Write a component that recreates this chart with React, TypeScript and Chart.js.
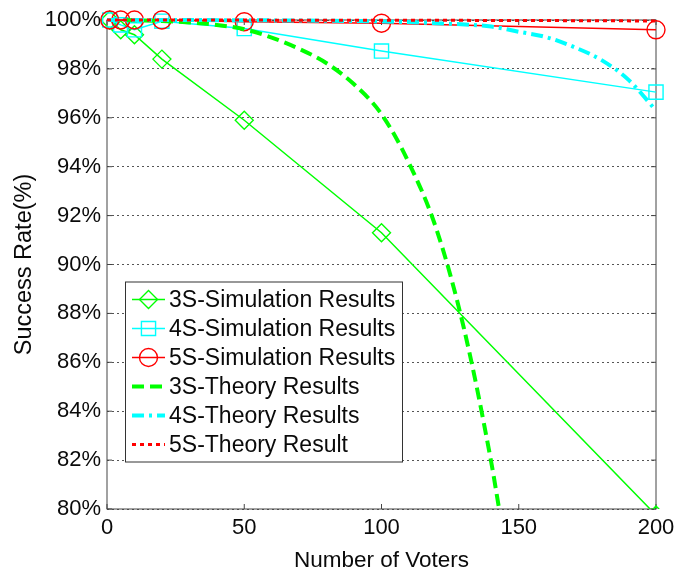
import { useEffect, useRef } from 'react';
import { Chart, registerables } from 'chart.js';
import { drawPoint } from 'chart.js/helpers';

Chart.register(...registerables);

const FONT = "'Liberation Sans', Arial, Helvetica, sans-serif";

// ---- data ----
const simVoters = [1, 5, 10, 20, 50, 100, 200];
const sim3S = [100, 99.6, 99.4, 98.4, 95.9, 91.3, 79.75];
const sim4S = [100, 99.8, 99.6, 99.95, 99.65, 98.73, 97.05];
const sim5S = [100, 100, 100, 100, 99.93, 99.87, 99.6];

const theory3SVoters = [0, 10, 20, 30, 40, 50, 60, 70, 80, 90, 100, 110, 120, 130, 140, 143];
const theory3S = [100, 99.99, 99.96, 99.9, 99.8, 99.62, 99.28, 98.82, 98.23, 97.37, 96.15, 94.15, 91.45, 87.4, 81.9, 79.9];

const theory4SVoters = [0, 50, 100, 120, 140, 150, 160, 170, 180, 190, 200];
const theory4S = [100, 99.99, 99.94, 99.87, 99.73, 99.52, 99.3, 98.9, 98.37, 97.55, 96.3];

const theory5SVoters = [0, 100, 150, 200];
const theory5S = [100, 99.99, 99.98, 99.96];

const seriesLabels = [
  '3S-Simulation Results',
  '4S-Simulation Results',
  '5S-Simulation Results',
  '3S-Theory Results',
  '4S-Theory Results',
  '5S-Theory Result',
];

const xMin = 0;
const xMax = 200;
const xStep = 50;
const yMin = 80;
const yMax = 100;
const yStep = 2;

const GREEN = '#00ff00';
const CYAN = '#00ffff';
const RED = '#ff0000';
const TEXT = '#0a0a0a';

const pts = (xs: number[], ys: number[]) => xs.map((x, i) => ({ x, y: ys[i] }));

const framePlugin = {
  id: 'matlabFrame',
  beforeDatasetsDraw(chart: any) {
    const { ctx, chartArea } = chart;
    const { left, right, top, bottom } = chartArea;
    ctx.save();
    ctx.strokeStyle = '#444';
    ctx.lineWidth = 1;
    ctx.setLineDash([]);
    ctx.strokeRect(left, top, right - left, bottom - top);
    const tl = 5;
    ctx.beginPath();
    chart.scales.x.ticks.forEach((t: any) => {
      const px = chart.scales.x.getPixelForValue(t.value);
      ctx.moveTo(px, bottom);
      ctx.lineTo(px, bottom - tl);
      ctx.moveTo(px, top);
      ctx.lineTo(px, top + tl);
    });
    chart.scales.y.ticks.forEach((t: any) => {
      const py = chart.scales.y.getPixelForValue(t.value);
      ctx.moveTo(left, py);
      ctx.lineTo(left + tl, py);
      ctx.moveTo(right, py);
      ctx.lineTo(right - tl, py);
    });
    ctx.stroke();
    ctx.restore();
  },
};

const legendPlugin = {
  id: 'boxLegend',
  afterDraw(chart: any) {
    const { ctx, chartArea } = chart;
    const left = chartArea.left + 18;
    const top = chartArea.top + 261.5;
    const w = 277;
    const h = 180;
    ctx.save();
    ctx.fillStyle = '#ffffff';
    ctx.fillRect(left, top, w, h);
    ctx.strokeStyle = '#333';
    ctx.lineWidth = 1;
    ctx.setLineDash([]);
    ctx.strokeRect(left + 0.5, top + 0.5, w, h);
    chart.data.datasets.forEach((ds: any, i: number) => {
      const y = top + 18 + i * 29;
      const x0 = left + 7;
      const x1 = left + 40;
      const xm = (x0 + x1) / 2;
      ctx.save();
      ctx.strokeStyle = ds.borderColor;
      ctx.lineWidth = ds.borderWidth;
      ctx.setLineDash(ds.borderDash || []);
      ctx.beginPath();
      ctx.moveTo(x0, y);
      ctx.lineTo(x1, y);
      ctx.stroke();
      ctx.setLineDash([]);
      if (ds.pointRadius > 0) {
        ctx.fillStyle = 'rgba(0,0,0,0)';
        ctx.strokeStyle = ds.borderColor;
        ctx.lineWidth = ds.pointBorderWidth;
        drawPoint(ctx, { pointStyle: ds.pointStyle, radius: ds.pointRadius, borderWidth: ds.pointBorderWidth, rotation: 0 } as any, xm, y);
      }
      ctx.restore();
      ctx.fillStyle = TEXT;
      ctx.font = `23px ${FONT}`;
      ctx.textBaseline = 'middle';
      ctx.textAlign = 'left';
      ctx.fillText(ds.label, left + 44, y + 1);
    });
    ctx.restore();
  },
};

export default function App() {
  const ref = useRef<HTMLCanvasElement | null>(null);

  useEffect(() => {
    if (!ref.current) return;
    const simClip = { left: 12, top: 12, right: 12, bottom: 0 };
    const thClip = { left: 0, top: 3, right: 0, bottom: 0 };
    const simCommon = {
      tension: 0,
      borderWidth: 1.5,
      pointBorderWidth: 1.4,
      pointBackgroundColor: 'rgba(0,0,0,0)',
      clip: simClip,
    };
    const thCommon = {
      pointRadius: 0,
      cubicInterpolationMode: 'monotone',
      clip: thClip,
    };
    const datasets: any[] = [
      { ...simCommon, label: seriesLabels[0], data: pts(simVoters, sim3S), borderColor: GREEN, pointBorderColor: GREEN, pointStyle: 'rectRot', pointRadius: 9 },
      { ...simCommon, label: seriesLabels[1], data: pts(simVoters, sim4S), borderColor: CYAN, pointBorderColor: CYAN, pointStyle: 'rect', pointRadius: 10 },
      { ...simCommon, label: seriesLabels[2], data: pts(simVoters, sim5S), borderColor: RED, pointBorderColor: RED, pointStyle: 'circle', pointRadius: 9 },
      { ...thCommon, label: seriesLabels[3], data: pts(theory3SVoters, theory3S), borderColor: GREEN, borderWidth: 4, borderDash: [12, 6] },
      { ...thCommon, label: seriesLabels[4], data: pts(theory4SVoters, theory4S), borderColor: CYAN, borderWidth: 4, borderDash: [12, 5, 3, 5] },
      { ...thCommon, label: seriesLabels[5], data: pts(theory5SVoters, theory5S), borderColor: RED, borderWidth: 3, borderDash: [4, 4] },
    ];
    datasets.forEach((d, i) => { d.order = datasets.length - i; });

    const chart = new Chart(ref.current, {
      type: 'line',
      data: { datasets },
      options: {
        animation: false,
        responsive: false,
        devicePixelRatio: 1,
        layout: { padding: { top: 20, right: 37, bottom: 0, left: 0 } },
        plugins: { legend: { display: false }, tooltip: { enabled: false } },
        scales: {
          x: {
            type: 'linear',
            min: xMin,
            max: xMax,
            afterFit: (s: any) => { s.height = 67; },
            ticks: { stepSize: xStep, maxRotation: 0, autoSkip: false, padding: 6, color: TEXT, font: { family: FONT, size: 22 } },
            grid: { display: false, drawTicks: false },
            border: { display: false },
            title: { display: true, text: 'Number of Voters', color: TEXT, font: { family: FONT, size: 22.5 }, padding: { top: 0, bottom: 1.5 } },
          },
          y: {
            min: yMin,
            max: yMax,
            afterFit: (s: any) => { s.width = 107; },
            ticks: { stepSize: yStep, padding: 6, color: TEXT, font: { family: FONT, size: 22 }, callback: (v: any) => `${v}%` },
            grid: { color: '#555', lineWidth: 1, drawTicks: false },
            border: { display: false, dash: [2, 3] },
            title: { display: true, text: 'Success Rate(%)', color: TEXT, font: { family: FONT, size: 23.5 }, padding: { top: 10.5, bottom: 0 } },
          },
        },
      } as any,
      plugins: [framePlugin, legendPlugin],
    });
    return () => chart.destroy();
  }, []);

  return (
    <div style={{ position: 'fixed', left: 0, top: 0, width: 693, height: 576, background: '#fff' }}>
      <canvas ref={ref} width={693} height={576} />
    </div>
  );
}
